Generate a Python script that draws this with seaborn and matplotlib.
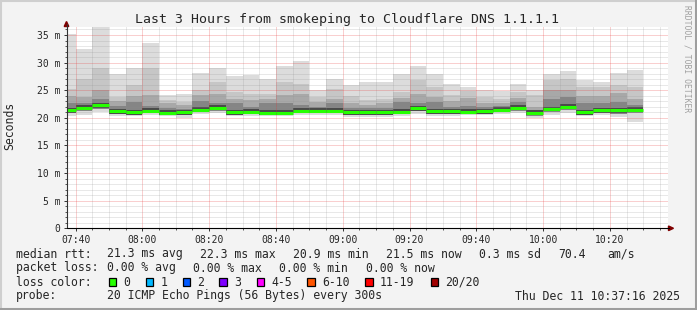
import numpy as np
import pandas as pd
import matplotlib
matplotlib.use("Agg")
import matplotlib.pyplot as plt
import seaborn as sns
from matplotlib.patches import Rectangle, Polygon
from matplotlib.lines import Line2D
from matplotlib.transforms import Affine2D

# ---------------- data (minutes after 07:00, 5-minute bins, values in ms) ---------------
bin_start = [35, 40, 45, 50, 55, 60, 65, 70, 75, 80, 85, 90, 95, 100, 105, 110, 115, 120,
             125, 130, 135, 140, 145, 150, 155, 160, 165, 170, 175, 180, 185, 190, 195, 200, 205]
ping_max = [35.1, 32.5, 36.4, 27.9, 29.0, 33.5, 24.2, 24.3, 28.1, 29.0, 27.6, 27.7, 27.0, 29.3,
            30.2, 25.1, 27.0, 25.9, 26.4, 26.5, 27.9, 29.3, 27.9, 26.2, 25.5, 25.0, 24.9, 26.1,
            25.0, 28.0, 28.4, 26.8, 26.4, 28.2, 28.6]
smoke_u1 = [25.2, 27.0, 29.0, 23.8, 25.9, 29.0, 23.2, 22.9, 25.0, 26.4, 24.7, 24.4, 24.4, 26.5,
            26.2, 23.7, 25.3, 23.9, 23.2, 23.5, 24.7, 26.9, 25.6, 24.1, 24.9, 23.8, 23.5, 24.6,
            24.1, 26.9, 27.1, 25.6, 25.6, 26.0, 25.6]
smoke_u2 = [24.0, 23.8, 25.0, 23.0, 24.0, 24.1, 22.6, 22.3, 24.2, 24.4, 23.5, 23.3, 23.5, 24.1,
            24.4, 22.8, 23.5, 22.6, 22.4, 22.6, 23.6, 24.4, 23.8, 23.0, 23.6, 22.7, 22.6, 23.6,
            22.0, 25.0, 25.0, 24.0, 24.0, 24.5, 23.5]
smoke_u3 = [22.7, 22.6, 23.5, 22.1, 22.9, 22.2, 21.8, 21.6, 23.0, 22.6, 22.6, 22.0, 22.6, 22.6,
            22.3, 22.0, 22.6, 21.8, 21.8, 21.8, 22.9, 22.6, 22.9, 22.0, 22.1, 22.0, 22.1, 22.9,
            21.5, 23.5, 23.8, 22.6, 22.6, 22.8, 22.3]
median_rtt = [21.4, 21.8, 22.3, 21.15, 21.0, 21.3, 20.95, 21.05, 21.45, 21.8, 21.0, 21.1, 20.95,
              20.95, 21.3, 21.3, 21.3, 21.0, 21.0, 21.0, 21.1, 21.7, 21.2, 21.2, 21.1, 21.2, 21.45,
              21.8, 20.95, 21.6, 22.0, 21.05, 21.35, 21.4, 21.5]
smoke_lo = [20.9, 21.2, 21.6, 20.7, 20.6, 20.8, 20.5, 20.5, 21.0, 21.3, 20.6, 20.7, 20.5, 20.5,
            20.8, 20.9, 20.8, 20.5, 20.5, 20.5, 20.7, 21.2, 20.7, 20.7, 20.8, 20.8, 21.0, 21.3,
            20.4, 21.1, 21.5, 20.6, 20.9, 20.7, 20.8]
ping_min = [20.4, 20.6, 21.0, 20.4, 20.3, 20.5, 20.3, 19.9, 20.7, 20.8, 20.3, 20.4, 20.3, 20.3,
            20.5, 20.6, 20.5, 20.2, 20.2, 20.2, 20.4, 20.7, 20.4, 20.4, 20.5, 20.5, 20.7, 20.8,
            19.9, 20.5, 20.8, 20.3, 20.5, 20.1, 19.3]

x_tick_pos = [40, 60, 80, 100, 120, 140, 160, 180, 200]
x_tick_labels = ["07:40", "08:00", "08:20", "08:40", "09:00", "09:20", "09:40", "10:00", "10:20"]
y_tick_pos = [0, 5, 10, 15, 20, 25, 30, 35]
y_tick_labels = ["0", "5 m", "10 m", "15 m", "20 m", "25 m", "30 m", "35 m"]

title = "Last 3 Hours from smokeping to Cloudflare DNS 1.1.1.1"
loss_labels = ["0", "1", "2", "3", "4-5", "6-10", "11-19", "20/20"]
loss_colors = ["#26ff00", "#00b8ff", "#0059ff", "#7e00ff", "#ff00ff", "#ff5500", "#ff0000", "#a10000"]

# ---------------- figure ---------------
W, H = 697, 310
sns.set_style("white")
plt.rcParams["font.family"] = ["DejaVu Sans Mono", "DejaVu Sans"]

fig = plt.figure(figsize=(W / 100, H / 100), dpi=100, facecolor="#f3f3f3")
px = Affine2D().scale(1 / W, -1 / H).translate(0, 1) + fig.transFigure

ax_l, ax_r, ax_t, ax_b = 66.5, 667.5, 26.7, 228.3
ax = fig.add_axes([ax_l / W, 1 - ax_b / H, (ax_r - ax_l) / W, (ax_b - ax_t) / H])
ax.set_facecolor("white")

t_end = 217.27
ax.set_xlim(t_end - 180, t_end)
ax.set_ylim(0, 36.5)

# smoke layers
starts = np.array(bin_start, dtype=float)
layers = [
    (ping_min, ping_max, "#dcdcdc"),
    (smoke_lo, smoke_u1, "#c6c6c6"),
    (smoke_lo, smoke_u2, "#a8a8a8"),
    (smoke_lo, smoke_u3, "#858585"),
]
for lo, hi, col in layers:
    lo = np.array(lo); hi = np.array(hi)
    ax.bar(starts, hi - lo, bottom=lo, width=5, align="edge", color=col, linewidth=0, zorder=2)
med = np.array(median_rtt)
ax.bar(starts, 0.9, bottom=med - 0.45, width=5, align="edge", color="#4a4a4a", linewidth=0, zorder=2.5)

# grid on top of smoke
ax.set_xticks(x_tick_pos)
ax.set_xticklabels(x_tick_labels)
ax.set_xticks(np.arange(40, 216, 5), minor=True)
ax.set_yticks(y_tick_pos)
ax.set_yticklabels(y_tick_labels)
ax.set_yticks(np.arange(0, 37, 1), minor=True)
ax.grid(which="minor", color="#8f8f8f", alpha=0.4, linestyle=(0, (1, 1)), linewidth=0.72, zorder=3)
ax.grid(which="major", color="#e83030", alpha=0.45, linestyle=(0, (1, 1)), linewidth=0.72, zorder=3)
ax.set_axisbelow(False)
for gl in ax.get_xgridlines() + ax.get_ygridlines():
    gl.set_zorder(3)

# median line (seaborn), one short segment per bin
df = pd.DataFrame({
    "t": np.concatenate([starts, starts + 5]),
    "median": np.concatenate([med, med]),
    "bin": np.concatenate([np.arange(len(starts)), np.arange(len(starts))]),
})
sns.lineplot(data=df, x="t", y="median", units="bin", estimator=None, color=loss_colors[0],
             linewidth=2.2, solid_capstyle="butt", ax=ax, zorder=4)
ax.set_xlabel("")
ax.set_ylabel("")

for s in ax.spines.values():
    s.set_visible(False)
ax.tick_params(axis="both", which="major", length=2.5, width=0.7, color="#333333",
               labelsize=7, pad=2)
ax.tick_params(axis="both", which="minor", length=1.5, width=0.7, color="#555555")
ax.tick_params(axis="x", which="both", bottom=True)
ax.tick_params(axis="y", which="both", left=True)

# axes lines and arrows
fig.add_artist(Line2D([ax_l, ax_l], [ax_b, 24], color="#333333", lw=0.8, transform=px))
fig.add_artist(Line2D([ax_l, 669], [ax_b, ax_b], color="#000000", lw=0.8, transform=px))
fig.add_artist(Polygon([[64.2, 26.5], [68.8, 26.5], [66.5, 21.5]], closed=True, color="#7f0000",
                       transform=px))
fig.add_artist(Polygon([[668.5, 226], [668.5, 230.6], [673.5, 228.3]], closed=True, color="#7f0000",
                       transform=px))

# texts
fig.text(347.2 / W, 1 - 19 / H, title, ha="center", va="center", fontsize=9.5)
fig.text(10 / W, 1 - 126 / H, "Seconds", rotation=90, ha="center", va="center", fontsize=8.3)
fig.text(687.5 / W, 1 - 58.5 / H, "RRDTOOL / TOBI OETIKER", rotation=270, ha="center",
         va="center", fontsize=5.8, color="#a0a0a0")

fs = 8.3
def t(xp, yp, s, **kw):
    fig.text(xp / W, 1 - yp / H, s, ha="left", va="center", fontsize=fs, **kw)

y1, y2, y3, y4 = 254, 268, 282.3, 296
t(16, y1, "median rtt:")
t(107.3, y1, "21.3 ms avg")
t(200, y1, "22.3 ms max")
t(293.3, y1, "20.9 ms min")
t(386, y1, "21.5 ms now")
t(479.3, y1, "0.3 ms sd")
t(558.3, y1, "70.4")
t(607.3, y1, "am/s")

t(16, y2, "packet loss:")
t(107.3, y2, "0.00 % avg")
t(193.3, y2, "0.00 % max")
t(279.3, y2, "0.00 % min")
t(366, y2, "0.00 % now")

t(16, y3, "loss color:")
box_x = [108.7, 145.7, 182.7, 219.3, 256.7, 307.3, 365, 430.7]
for bx, lab, col in zip(box_x, loss_labels, loss_colors):
    fig.add_artist(Rectangle((bx, y3 - 4), 7.5, 7.5, facecolor=col, edgecolor="black",
                             linewidth=0.9, transform=px))
    t(bx + 14.5, y3, lab)

t(16, y4, "probe:")
t(107.3, y4, "20 ICMP Echo Pings (56 Bytes) every 300s")
fig.text(680 / W, 1 - y4 / H, "Thu Dec 11 10:37:16 2025", ha="right", va="center", fontsize=fs)

# frame shading
fig.add_artist(Line2D([0, W], [1, 1], color="#cfcfcf", lw=1.5, transform=px))
fig.add_artist(Line2D([1, 1], [0, H], color="#cfcfcf", lw=1.5, transform=px))
fig.add_artist(Line2D([0, W], [H - 1.5, H - 1.5], color="#9e9e9e", lw=2.2, transform=px))
fig.add_artist(Line2D([W - 1.5, W - 1.5], [0, H], color="#9e9e9e", lw=2.2, transform=px))

fig.savefig("out.png", dpi=100, facecolor=fig.get_facecolor())
